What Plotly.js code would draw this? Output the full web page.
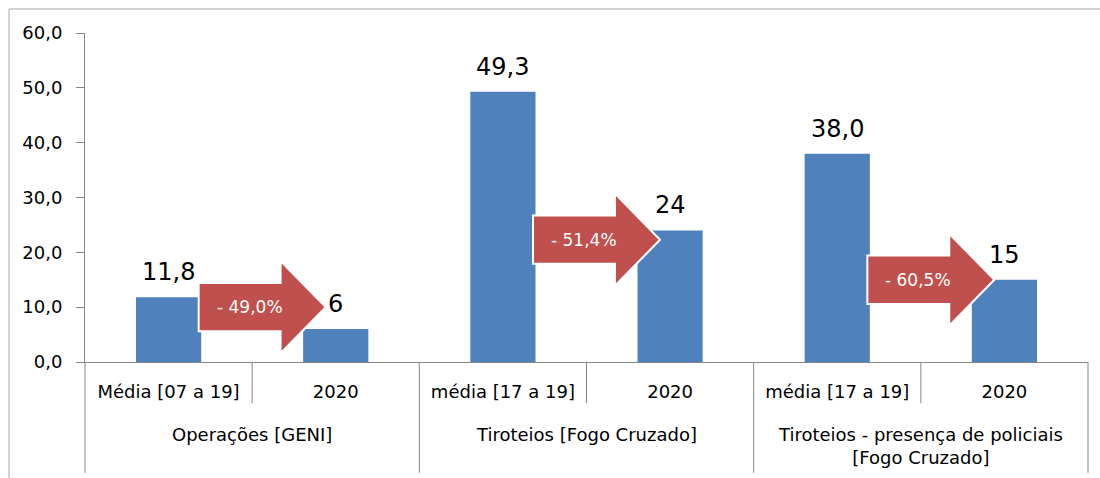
<!DOCTYPE html>
<html>
<head>
<meta charset="utf-8">
<script src="https://cdn.plot.ly/plotly-3.0.1.min.js"></script>
<style>
  html, body { margin: 0; padding: 0; background: #fff; }
  #chart { width: 1100px; height: 478px; }
</style>
</head>
<body>
<div id="chart"></div>
<script>
// --- dados -------------------------------------------------------------------
const subLabels = ["Média [07 a 19]", "2020", "média [17 a 19]", "2020", "média [17 a 19]", "2020"];
const groupLabels = ["Operações [GENI]", "Tiroteios [Fogo Cruzado]", "Tiroteios - presença de policiais<br>[Fogo Cruzado]"];
const values = [11.8, 6, 49.3, 24, 38.0, 15];
const valueLabels = ["11,8", "6", "49,3", "24", "38,0", "15"];
const changeLabels = ["- 49,0%", "- 51,4%", "- 60,5%"];
const arrowCenterY = [10, 22.3, 15];   // altura das setas (unidades do eixo y)

// --- estilo ------------------------------------------------------------------
const BLUE = "#4F81BD", RED = "#C0504D", AXIS = "#868686";
const FONT = "DejaVu Sans, Verdana, sans-serif";
const X_RANGE = [-0.5, 5.5];
const xs = values.map((_, i) => i);

function toPaperX(v) { return (v - X_RANGE[0]) / (X_RANGE[1] - X_RANGE[0]); }

const shapes = [];
// moldura externa (só topo e esquerda aparecem no recorte)
shapes.push({ type: "line", xref: "paper", yref: "paper", x0: -0.0758, x1: 1.1, y0: 1.073, y1: 1.073,
  line: { color: "#C4C4C4", width: 1.5 }, layer: "below" });
shapes.push({ type: "line", xref: "paper", yref: "paper", x0: -0.0758, x1: -0.0758, y0: 1.073, y1: -0.5,
  line: { color: "#C4C4C4", width: 1.5 }, layer: "below" });

// divisórias do eixo de categorias
for (let g = 0; g <= groupLabels.length; g++) {
  const xv = X_RANGE[0] + g * 2;
  shapes.push({ type: "line", xref: "paper", yref: "paper", x0: toPaperX(xv), x1: toPaperX(xv),
    y0: 0, y1: -0.337, line: { color: AXIS, width: 1 } });
}
for (let g = 0; g < groupLabels.length; g++) {
  const xv = g * 2 + 0.5;
  shapes.push({ type: "line", xref: "paper", yref: "paper", x0: toPaperX(xv), x1: toPaperX(xv),
    y0: 0, y1: -0.125, line: { color: AXIS, width: 1 } });
}

// setas de variação
const annotations = [];
const BODY_H = 4.4, HEAD_H = 8.4;
changeLabels.forEach((txt, g) => {
  const base = g * 2;
  const xl = base + 0.18, xh = base + 0.67, xt = base + 0.94;
  const yc = arrowCenterY[g];
  const path = "M" + xl + "," + (yc + BODY_H) +
    " L" + xh + "," + (yc + BODY_H) +
    " L" + xh + "," + (yc + HEAD_H) +
    " L" + xt + "," + yc +
    " L" + xh + "," + (yc - HEAD_H) +
    " L" + xh + "," + (yc - BODY_H) +
    " L" + xl + "," + (yc - BODY_H) + " Z";
  shapes.push({ type: "path", xref: "x", yref: "y", path: path,
    fillcolor: RED, line: { color: "#FFFFFF", width: 2 }, layer: "above" });
  annotations.push({ x: (xl + xh) / 2 + 0.06, y: yc, xref: "x", yref: "y", text: txt, showarrow: false,
    font: { family: FONT, size: 17, color: "#FFFFFF" }, xanchor: "center", yanchor: "middle" });
});

// rótulos de valor
values.forEach((v, i) => {
  annotations.push({ x: i, y: v, xref: "x", yref: "y", text: valueLabels[i], showarrow: false,
    yanchor: "bottom", yshift: 9, font: { family: FONT, size: 24, color: "#000" } });
});

// rótulos dos grupos
groupLabels.forEach((txt, g) => {
  annotations.push({ x: toPaperX(g * 2 + 0.5), y: -0.182, xref: "paper", yref: "paper", text: txt,
    showarrow: false, xanchor: "center", yanchor: "top",
    font: { family: FONT, size: 18, color: "#000" } });
});

const trace = {
  type: "bar", x: xs, y: values, width: 0.39,
  marker: { color: BLUE }, hoverinfo: "skip"
};

const layout = {
  width: 1100, height: 478,
  margin: { l: 85, r: 12, t: 33, b: 116 },
  paper_bgcolor: "#FFFFFF", plot_bgcolor: "#FFFFFF",
  separators: ",.",
  showlegend: false,
  font: { family: FONT, color: "#000" },
  xaxis: {
    range: X_RANGE, tickmode: "array", tickvals: xs, ticktext: subLabels,
    ticks: "", showgrid: false, zeroline: false, showline: true, linecolor: AXIS, linewidth: 1,
    tickfont: { family: FONT, size: 18, color: "#000" }, ticklabelstandoff: 13, fixedrange: true
  },
  yaxis: {
    range: [0, 60], dtick: 10, tick0: 0, tickformat: ".1f",
    ticks: "outside", ticklen: 8, tickcolor: AXIS, showline: true, linecolor: AXIS, linewidth: 1,
    showgrid: false, zeroline: false, ticklabelstandoff: 10,
    tickfont: { family: FONT, size: 18, color: "#000" }, fixedrange: true
  },
  shapes: shapes,
  annotations: annotations
};

Plotly.newPlot("chart", [trace], layout, { displayModeBar: false, staticPlot: true });
</script>
</body>
</html>
